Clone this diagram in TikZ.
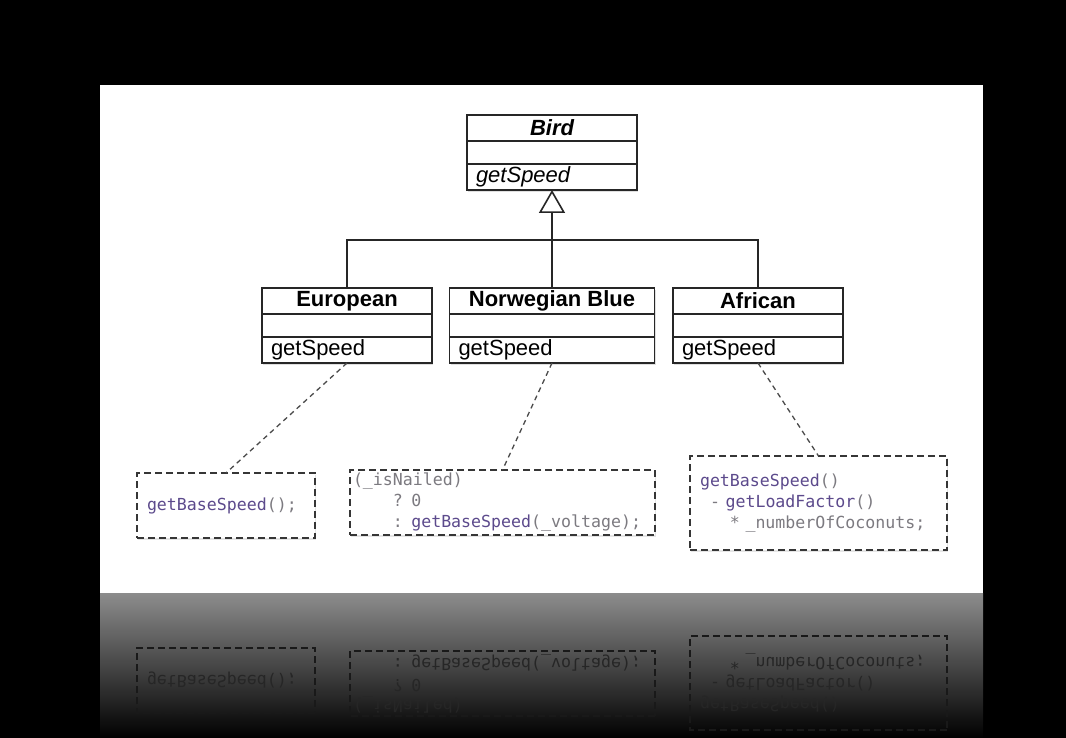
\documentclass[tikz,border=0pt]{standalone}
\usepackage{fontspec}
\setmainfont{Liberation Sans}
\setmonofont{DejaVu Sans Mono}
\usepackage{xcolor}
\usepackage{tikz}
\usetikzlibrary{positioning,arrows.meta,shadows}

\definecolor{umlline}{HTML}{262626}
\definecolor{codeline}{HTML}{363636}
\definecolor{codetext}{HTML}{7C7A80}
\definecolor{codemeth}{HTML}{5C4A8C}
\definecolor{linkgray}{HTML}{4A4A4A}

\tikzset{
  classrow/.style={draw=umlline, line width=1.6pt, fill=white, outer sep=0pt, inner sep=0pt,
    minimum width=170pt, minimum height=26pt, font=\fontsize{22}{26}\selectfont,
    drop shadow={shadow xshift=1pt, shadow yshift=-2pt, opacity=0.25}},
  classname/.style={classrow, font=\fontsize{22}{26}\selectfont\bfseries},
  classattr/.style={classrow, minimum height=23pt},
  classops/.style={classrow, text width=152pt, align=left},
  inherit/.style={draw=umlline, line width=1.6pt},
  impl/.style={draw=linkgray, line width=1.3pt, dash pattern=on 5pt off 4pt},
  codebox/.style={draw=codeline, line width=2.2pt, dash pattern=on 7pt off 4pt,
    inner xsep=10pt, inner ysep=0pt, outer sep=0pt, text=codetext, align=left,
    font=\ttfamily\fontsize{16.6}{21}\selectfont},
  codecard/.style={codebox, fill=white,
    drop shadow={shadow xshift=1pt, shadow yshift=-2pt, opacity=0.2}},
}

% the three implementations, drawn again upside down for the reflection
\newcommand{\codeboxes}[1]{%
  \node[#1, minimum width=178pt, minimum height=65pt, text width=158pt] (code-eu) at (226,505.5)
    {\textcolor{codemeth}{getBaseSpeed}();};
  \node[#1, minimum width=305pt, minimum height=65pt, inner xsep=3pt, text width=299pt] (code-nb) at (502.5,502.5)
    {(\_isNailed)\\
     \phantom{0000}? 0\\
     \phantom{0000}: \textcolor{codemeth}{getBaseSpeed}(\_voltage);};
  \node[#1, minimum width=257pt, minimum height=94pt, text width=237pt] (code-af) at (818.5,503)
    {\textcolor{codemeth}{getBaseSpeed}()\\
     \phantom{0}- \textcolor{codemeth}{getLoadFactor}()\\
     \phantom{000}* \_numberOfCoconuts;};
}

\begin{document}
\begin{tikzpicture}[x=1pt, y=-1pt]
    \useasboundingbox (0,0) rectangle (1066,738);
    \fill[black] (0,0) rectangle (1066,738);
    \fill[white] (100,85) rectangle (983,593);

    % classes
    \node[classname] (bird) at (552,128) {\itshape Bird};
    \node[classattr, below=0pt of bird] (bird-attr) {};
    \node[classops, below=0pt of bird-attr] (bird-ops) {\itshape getSpeed};

    \node[classname] (european) at (347,301) {European};
    \node[classattr, below=0pt of european] (european-attr) {};
    \node[classops, below=0pt of european-attr] (european-ops) {getSpeed};

    \node[classname, minimum width=205pt] (norwegian) at (552,301) {Norwegian Blue};
    \node[classattr, minimum width=205pt, below=0pt of norwegian] (norwegian-attr) {};
    \node[classops, minimum width=205pt, text width=187pt, below=0pt of norwegian-attr] (norwegian-ops) {getSpeed};

    \node[classname] (african) at (758,301) {African};
    \node[classattr, below=0pt of african] (african-attr) {};
    \node[classops, below=0pt of african-attr] (african-ops) {getSpeed};

    % generalisation
    \coordinate (hub) at (552,240);
    \draw[inherit, -{Triangle[open, length=23pt, width=26pt]}] (hub) -- (bird-ops.south);
    \draw[inherit] (european.north) |- (hub) -| (african.north);
    \draw[inherit] (norwegian.north) -- (hub);

    % implementations
    \codeboxes{codecard}
    \draw[impl] (european-ops.south) -- (code-eu.north);
    \draw[impl] (norwegian-ops.south) -- (code-nb.north);
    \draw[impl] (african-ops.south) -- (code-af.north);

    % reflection under the slide
    \shade[top color=black!45, bottom color=black] (100,593) rectangle (983,738);
    \begin{scope}[yshift=-1186pt, yscale=-1, transform shape, name prefix=r-]
        \colorlet{codeline}{black!90}
        \colorlet{codetext}{black!85}
        \colorlet{codemeth}{black!85}
        \codeboxes{codebox}
    \end{scope}
\end{tikzpicture}
\end{document}
